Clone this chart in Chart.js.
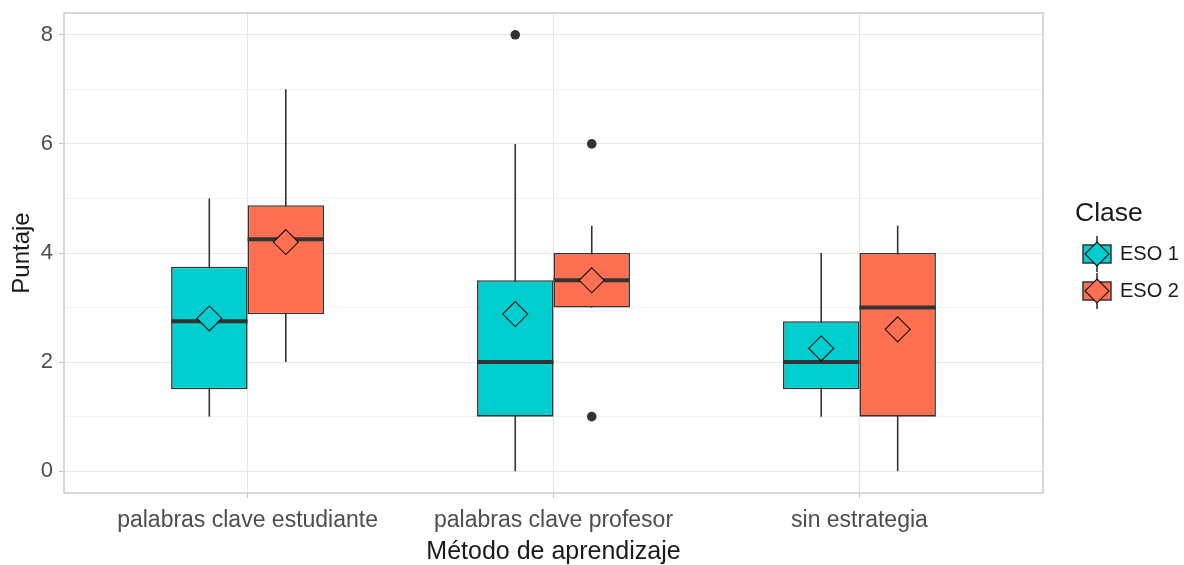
<!DOCTYPE html>
<html><head><meta charset="utf-8">
<script src="https://cdn.jsdelivr.net/npm/chart.js@4/dist/chart.umd.min.js"></script>
<style>html,body{margin:0;padding:0;background:#fff}#wrap{width:1184px;height:565px}</style>
</head><body><div id="wrap"><canvas id="c" width="1184" height="565"></canvas></div>
<script>
// ---- data ----
const categories = ['palabras clave estudiante', 'palabras clave profesor', 'sin estrategia'];
const groups = ['ESO 1', 'ESO 2'];
const colors = ['#00CDCD', '#FF7052'];

const eso1Q1 = [1.5, 1, 1.5];
const eso1Q3 = [3.75, 3.5, 2.75];
const eso1Median = [2.75, 2, 2];
const eso1Low = [1, 0, 1];
const eso1High = [5, 6, 4];
const eso1Mean = [2.8, 2.88, 2.25];
const eso1Outliers = [[], [8], []];

const eso2Q1 = [2.875, 3, 1];
const eso2Q3 = [4.875, 4, 4];
const eso2Median = [4.25, 3.5, 3];
const eso2Low = [2, 3, 0];
const eso2High = [7, 4.5, 4.5];
const eso2Mean = [4.2, 3.5, 2.6];
const eso2Outliers = [[], [6, 1], []];

const yTicks = [0, 2, 4, 6, 8];
const yMinorTicks = [1, 3, 5, 7];

const stats = [
  {q1: eso1Q1, q3: eso1Q3, med: eso1Median, lo: eso1Low, hi: eso1High, mean: eso1Mean, out: eso1Outliers},
  {q1: eso2Q1, q3: eso2Q3, med: eso2Median, lo: eso2Low, hi: eso2High, mean: eso2Mean, out: eso2Outliers}
];

const INK = '#333333';
const FONT = "'Liberation Sans', Arial, sans-serif";

function diamond(ctx, x, y, r, fill) {
  ctx.beginPath();
  ctx.moveTo(x, y - r); ctx.lineTo(x + r, y); ctx.lineTo(x, y + r); ctx.lineTo(x - r, y); ctx.closePath();
  ctx.fillStyle = fill; ctx.fill();
  ctx.lineWidth = 1.1; ctx.strokeStyle = '#111'; ctx.stroke();
}

const boxPlugin = {
  id: 'boxExtras',
  beforeDatasetsDraw(chart) {
    const ctx = chart.ctx, y = chart.scales.y;
    ctx.save();
    stats.forEach((s, di) => {
      const meta = chart.getDatasetMeta(di);
      meta.data.forEach((bar, i) => {
        ctx.beginPath();
        ctx.moveTo(bar.x, y.getPixelForValue(s.lo[i]));
        ctx.lineTo(bar.x, y.getPixelForValue(s.hi[i]));
        ctx.lineWidth = 1.6; ctx.strokeStyle = INK; ctx.stroke();
      });
    });
    ctx.restore();
  },
  afterDatasetsDraw(chart) {
    const ctx = chart.ctx, y = chart.scales.y, a = chart.chartArea;
    ctx.save();
    stats.forEach((s, di) => {
      const meta = chart.getDatasetMeta(di);
      meta.data.forEach((bar, i) => {
        const half = bar.width / 2;
        const my = y.getPixelForValue(s.med[i]);
        ctx.beginPath();
        ctx.moveTo(bar.x - half, my); ctx.lineTo(bar.x + half, my);
        ctx.lineWidth = 4; ctx.strokeStyle = INK; ctx.stroke();
        s.out[i].forEach(v => {
          ctx.beginPath();
          ctx.arc(bar.x, y.getPixelForValue(v), 4.8, 0, Math.PI * 2);
          ctx.fillStyle = INK; ctx.fill();
        });
        diamond(ctx, bar.x, y.getPixelForValue(s.mean[i]), 12.5, colors[di]);
      });
    });
    // panel border
    ctx.lineWidth = 1.5; ctx.strokeStyle = '#cccccc';
    ctx.strokeRect(a.left, a.top, a.right - a.left, a.bottom - a.top);
    ctx.restore();
  },
  afterDraw(chart) {
    const ctx = chart.ctx;
    ctx.save();
    ctx.fillStyle = '#1a1a1a';
    ctx.textAlign = 'left'; ctx.textBaseline = 'middle';
    ctx.font = '26.5px ' + FONT;
    ctx.fillText('Clase', 1075, 214);
    const ys = [254, 291];
    groups.forEach((g, i) => {
      const cy = ys[i], cx = 1097;
      ctx.beginPath(); ctx.moveTo(cx, cy - 18); ctx.lineTo(cx, cy + 18);
      ctx.lineWidth = 1.6; ctx.strokeStyle = INK; ctx.stroke();
      ctx.fillStyle = colors[i];
      ctx.fillRect(cx - 14, cy - 9, 28, 18);
      ctx.lineWidth = 1.5; ctx.strokeStyle = INK;
      ctx.strokeRect(cx - 14, cy - 9, 28, 18);
      diamond(ctx, cx, cy, 12, colors[i]);
      ctx.fillStyle = '#1a1a1a';
      ctx.font = '20px ' + FONT;
      ctx.fillText(g, 1120, cy);
    });
    ctx.restore();
  }
};

const datasets = groups.map((g, di) => ({
  label: g,
  data: categories.map((c, i) => ({x: i + 1, y: [stats[di].q1[i], stats[di].q3[i]]})),
  backgroundColor: colors[di],
  borderColor: INK,
  borderWidth: 1.6,
  borderSkipped: false,
  categoryPercentage: 0.5,
  barPercentage: 1.0
}));

const allY = yTicks.concat(yMinorTicks).sort((a, b) => a - b);

new Chart(document.getElementById('c'), {
  type: 'bar',
  data: {datasets},
  options: {
    responsive: false,
    animation: false,
    devicePixelRatio: 1,
    layout: {padding: {top: 13, right: 141, left: 0, bottom: 0}},
    plugins: {legend: {display: false}, tooltip: {enabled: false}},
    scales: {
      x: {
        type: 'linear', min: 0.4, max: 3.6, offset: false,
        afterBuildTicks: s => { s.ticks = categories.map((c, i) => ({value: i + 1})); },
        afterFit: s => { s.height = 72; s.paddingLeft = 0; s.paddingRight = 0; },
        grid: {offset: false, color: '#e6e6e6', lineWidth: 1, tickLength: 5, tickColor: '#c0c0c0'},
        border: {display: false},
        ticks: {
          autoSkip: false, maxRotation: 0, padding: 9,
          color: '#4d4d4d', font: {family: FONT, size: 23},
          callback: v => categories[Math.round(v) - 1]
        },
        title: {display: true, text: 'Método de aprendizaje', color: '#1a1a1a',
          font: {family: FONT, size: 25, lineHeight: 1}, padding: {top: 0, bottom: 0}}
      },
      y: {
        type: 'linear', min: -0.4, max: 8.4,
        afterBuildTicks: s => { s.ticks = allY.map(v => ({value: v})); },
        afterFit: s => { s.width = 64; s.paddingTop = 0; s.paddingBottom = 0; },
        grid: {
          color: c => yTicks.includes(c.tick.value) ? '#e6e6e6' : '#f3f3f3',
          tickColor: c => yTicks.includes(c.tick.value) ? '#c0c0c0' : 'rgba(0,0,0,0)',
          lineWidth: 1, tickLength: 5
        },
        border: {display: false},
        ticks: {
          padding: 6, color: '#4d4d4d', font: {family: FONT, size: 22},
          callback: v => yTicks.includes(v) ? String(v) : ''
        },
        title: {display: true, text: 'Puntaje', color: '#1a1a1a',
          font: {family: FONT, size: 24, lineHeight: 1.2}, padding: {top: 8, bottom: 0}}
      }
    }
  },
  plugins: [boxPlugin]
});
</script>
</body></html>
